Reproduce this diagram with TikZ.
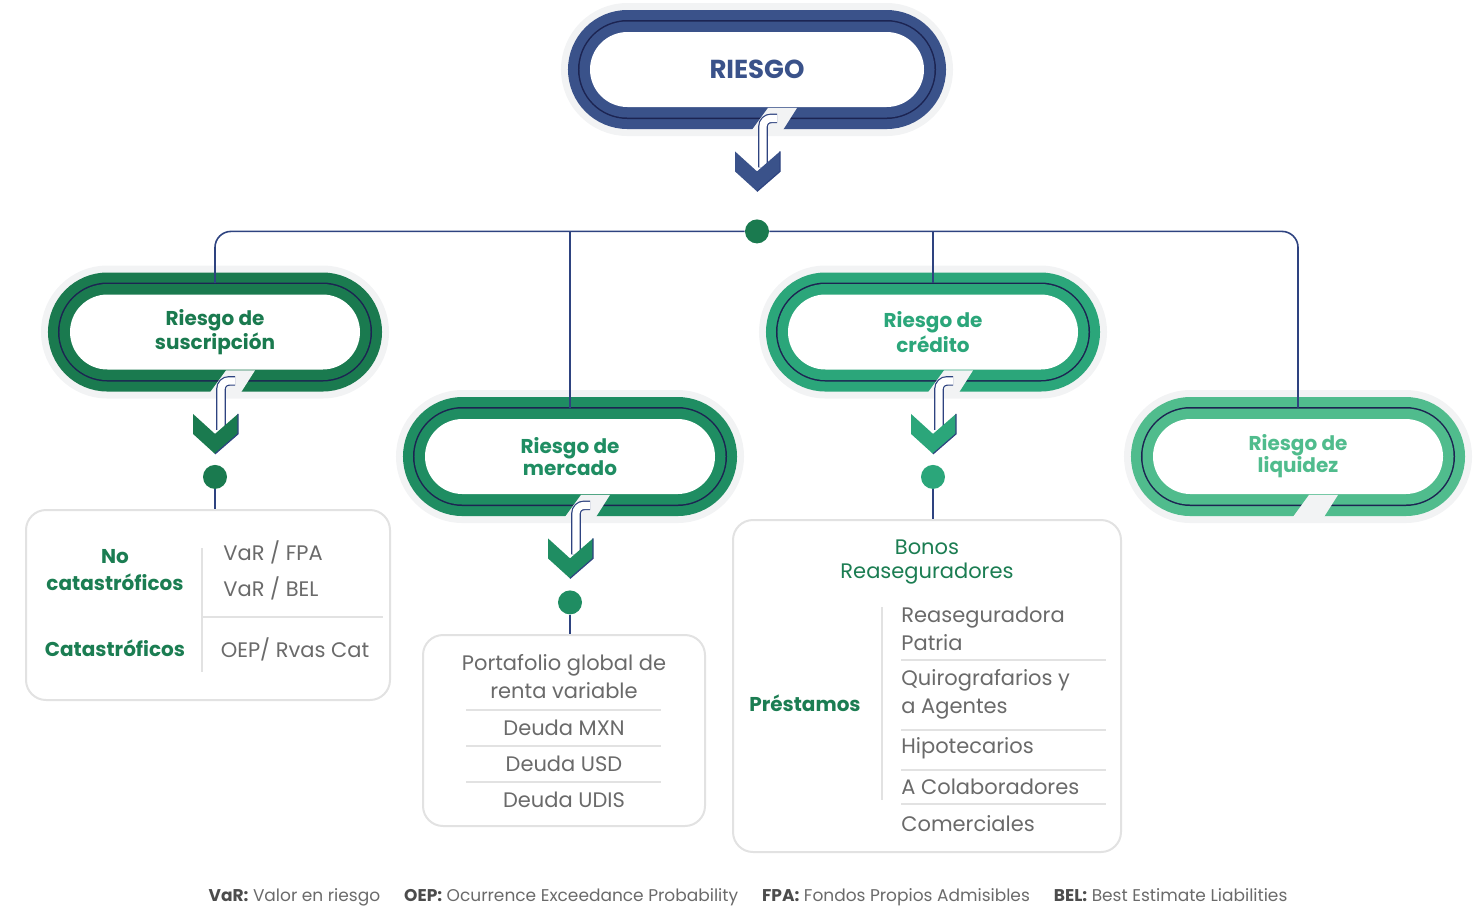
\documentclass[tikz,border=0pt]{standalone}
\usepackage{fontspec}
\setmainfont{Poppins}
\usetikzlibrary{shapes.misc, calc}

\definecolor{navyband}{HTML}{3A528A}
\definecolor{ringline}{HTML}{1C2452}
\definecolor{linknavy}{HTML}{2E4380}
\definecolor{gsus}{HTML}{1A7A4F}
\definecolor{gmer}{HTML}{1F8D62}
\definecolor{gcre}{HTML}{2BA67A}
\definecolor{gliq}{HTML}{50BC8D}
\definecolor{gtext}{HTML}{1B7D52}
\definecolor{halo}{HTML}{F2F3F4}
\definecolor{panelline}{HTML}{E2E2E2}
\definecolor{greytext}{HTML}{6A6A6A}

\tikzset{
  pill/.style={shape=rounded rectangle, inner sep=0pt, minimum width=145pt,
    minimum height=37.5pt, fill=white, align=center, text=#1,
    font=\bfseries\fontsize{10}{11}\selectfont,
    preaction={draw=halo, line width=29pt},
    preaction={draw=#1, line width=22pt},
    preaction={draw=ringline, line width=12pt},
    preaction={draw=#1, line width=10.5pt}},
  shaft/.style={draw=linknavy, line width=0.6pt, double=white, double distance=3.6pt},
  chevedge/.style={draw=linknavy, line width=0.6pt},
  link/.style={draw=linknavy, line width=0.8pt},
  hubdot/.style={circle, fill=#1, minimum size=12pt, inner sep=0pt},
  panel/.style={draw=panelline, line width=1pt, rounded corners=10pt, fill=white, inner sep=0pt},
  divider/.style={draw=panelline, line width=1pt},
  head/.style={font=\bfseries\fontsize{10}{13.5}\selectfont, text=gtext, align=center, inner sep=0pt},
  cell/.style={font=\fontsize{10.5}{14}\selectfont, text=greytext, align=center, inner sep=0pt}
}

% gap in the lower band of a pill
\newcommand{\pillnotch}[1]{%
  \fill[halo] ($(#1.south)+(11,0.5)$) -- ($(#1.south)+(40,0.5)$)
    -- ($(#1.south)+(26,22.5)$) -- ($(#1.south)+(-5,22.5)$) -- cycle;}

% shaft and chevron below a pill
\newcommand{\pillarrow}[2]{%
  \coordinate (#1tip) at ($(#1.south)+(0,84)$);
  \draw[shaft, rounded corners=4pt] ($(#1.south)+(20,11)$) -- ($(#1.south)+(6,11)$)
    -- ($(#1tip)+(6,-24)$);
  \fill[#2] ($(#1tip)+(-22,-40)$) -- ($(#1tip)+(0,-20)$) -- ($(#1tip)+(23,-40)$)
    -- ($(#1tip)+(23,-20)$) -- (#1tip) -- ($(#1tip)+(-22,-20)$) -- cycle;
  \draw[chevedge] ($(#1tip)+(23,-40)$) -- ($(#1tip)+(23,-20)$) -- (#1tip);}

\begin{document}
\begin{tikzpicture}[x=0.5pt, y=-0.5pt]
  \useasboundingbox (0,0) rectangle (1483,907);

  % pills
  \node[pill=navyband, minimum width=167pt, font=\bfseries\fontsize{13}{15}\selectfont]
    (riesgo) at (757,69.5) {RIESGO};
  \node[pill=gsus] (sus) at (215,332) {Riesgo de\\suscripción};
  \node[pill=gmer] (mer) at (570,456.5) {Riesgo de\\mercado};
  \node[pill=gcre] (cre) at (933,332) {Riesgo de\\crédito};
  \node[pill=gliq] (liq) at (1298,456.5) {Riesgo de\\liquidez};

  \pillnotch{riesgo}
  \pillnotch{sus}
  \pillnotch{mer}
  \pillnotch{cre}
  \pillnotch{liq}

  \pillarrow{riesgo}{navyband}
  \pillarrow{sus}{gsus}
  \pillarrow{mer}{gmer}
  \pillarrow{cre}{gcre}

  % tree
  \node[hubdot=gsus] (hub) at ($(riesgotip)+(0,40)$) {};
  \draw[link, rounded corners=8pt] ($(sus.north)+(0,-11)$) |- (hub);
  \draw[link, rounded corners=8pt] ($(liq.north)+(0,-11)$) |- (hub);
  \draw[link] ($(mer.north)+(0,-11)$) -- (mer.north |- hub);
  \draw[link] ($(cre.north)+(0,-11)$) -- (cre.north |- hub);

  \node[hubdot=gsus] (susdot) at ($(sustip)+(0,23)$) {};
  \node[hubdot=gmer] (merdot) at ($(mertip)+(0,24)$) {};
  \node[hubdot=gcre] (credot) at ($(cretip)+(0,23)$) {};

  % panels
  \node[panel, minimum width=182pt, minimum height=95pt] (tabsus) at (208,605) {};
  \node[panel, minimum width=141pt, minimum height=95.5pt] (tabmer) at (564,730.5) {};
  \node[panel, minimum width=194pt, minimum height=166pt] (tabcre) at (927,686) {};

  \draw[link] (susdot) -- (susdot |- tabsus.north);
  \draw[link] (merdot) -- (merdot |- tabmer.north);
  \draw[link] (credot) -- (credot |- tabcre.north);

  % suscripcion
  \node[head] (nocat) at (115,570) {No\\catastróficos};
  \node[head] (cat) at (115,648) {Catastróficos};
  \node[cell, anchor=west] (varfpa) at (223,552) {VaR / FPA};
  \node[cell, anchor=west] (varbel) at (223,588) {VaR / BEL};
  \node[cell] (oep) at (295,649) {OEP/ Rvas Cat};
  \draw[divider] (202,548) -- (202,672);
  \draw[divider] (202,617) -- (383,617);

  % mercado
  \node[cell] (portafolio) at (564,677) {Portafolio global de\\renta variable};
  \node[cell] (mxn) at (564,728) {Deuda MXN};
  \node[cell] (usd) at (564,764) {Deuda USD};
  \node[cell] (udis) at (564,800) {Deuda UDIS};
  \foreach \y in {710,746,782}
    \draw[divider] (466,\y) -- (661,\y);

  % credito
  \node[head, font=\fontsize{10.5}{12}\selectfont] (bonos) at (927,562) {Bonos\\Reaseguradores};
  \node[head] (prestamos) at (805,703) {Préstamos};
  \node[cell, anchor=west, align=left] (patria) at (901,629) {Reaseguradora\\Patria};
  \node[cell, anchor=west, align=left] (quiro) at (901,694) {Quirografarios y\\a Agentes};
  \node[cell, anchor=west] (hipo) at (901,748) {Hipotecarios};
  \node[cell, anchor=west] (colab) at (901,787) {A Colaboradores};
  \node[cell, anchor=west] (comer) at (901,824) {Comerciales};
  \draw[divider] (882,607) -- (882,800);
  \foreach \y in {660,730,770,804}
    \draw[divider] (901,\y) -- (1106,\y);

  % legend
  \node[font=\fontsize{8.5}{10}\selectfont, text=greytext] (legend) at (748,897)
    {\textcolor{black!70}{\textbf{VaR:}} Valor en riesgo\hspace{12pt}%
     \textcolor{black!70}{\textbf{OEP:}} Ocurrence Exceedance Probability\hspace{12pt}%
     \textcolor{black!70}{\textbf{FPA:}} Fondos Propios Admisibles\hspace{12pt}%
     \textcolor{black!70}{\textbf{BEL:}} Best Estimate Liabilities};
\end{tikzpicture}
\end{document}
